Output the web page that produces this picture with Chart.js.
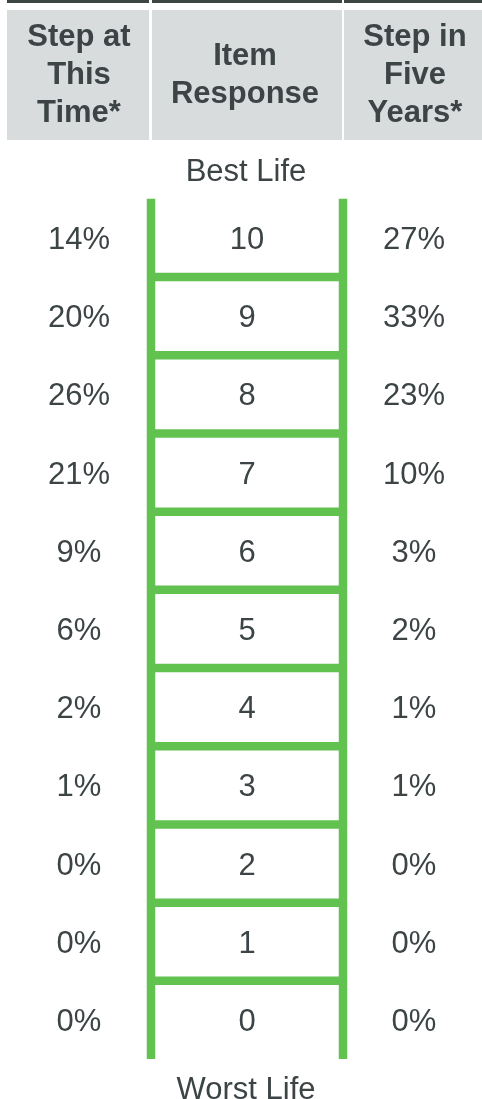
<!DOCTYPE html>
<html>
<head>
<meta charset="utf-8">
<script src="https://cdn.jsdelivr.net/npm/chart.js@4/dist/chart.umd.min.js"></script>
<style>
  html, body { margin: 0; padding: 0; background: #ffffff; }
  #wrap { position: relative; width: 482px; height: 1099px; }
  canvas { display: block; }
</style>
</head>
<body>
<div id="wrap"><canvas id="c" width="482" height="1099"></canvas></div>
<script>
// ---- data ----
const steps = [10, 9, 8, 7, 6, 5, 4, 3, 2, 1, 0];
const stepNow = [14, 20, 26, 21, 9, 6, 2, 1, 0, 0, 0];      // Step at This Time* (%)
const stepFive = [27, 33, 23, 10, 3, 2, 1, 1, 0, 0, 0];     // Step in Five Years* (%)
const headers = [["Step at", "This", "Time*"], ["Item", "Response"], ["Step in", "Five", "Years*"]];
const topLabel = "Best Life";
const bottomLabel = "Worst Life";

// ---- style / layout ----
const GREEN = "#62c250";
const TEXT = "#3d4446";
const HEAD_BG = "#d9dcdd";
const DARK = "#3e4545";
const FONT = "'Liberation Sans', Arial, Helvetica, sans-serif";
const railX = [151, 343];
const colCenter = [79, 247, 414];
const headCenter = [79, 245, 415];
const colSpans = [[7, 149], [152, 342], [344, 482]];

const minStep = Math.min(...steps), maxStep = Math.max(...steps);

const datasets = [];
// rungs between consecutive steps
for (let i = 0; i < steps.length - 1; i++) {
  const yv = (steps[i] + steps[i + 1]) / 2;
  datasets.push({
    data: [{ x: railX[0], y: yv }, { x: railX[1], y: yv }],
    showLine: true, borderColor: GREEN, borderWidth: 8.5, pointRadius: 0,
    borderCapStyle: 'butt'
  });
}
// rails
railX.forEach(rx => {
  datasets.push({
    data: [{ x: rx, y: maxStep + 0.5 }, { x: rx, y: minStep - 0.5 }],
    showLine: true, borderColor: GREEN, borderWidth: 8.5, pointRadius: 0,
    borderCapStyle: 'butt'
  });
});

const ladderPlugin = {
  id: 'ladder',
  beforeDatasetsDraw(chart) {
    const ctx = chart.ctx;
    const xs = chart.scales.x;
    ctx.save();
    // header bar + cells
    colSpans.forEach(([a, b]) => {
      const x0 = xs.getPixelForValue(a), x1 = xs.getPixelForValue(b);
      ctx.fillStyle = DARK;
      ctx.fillRect(x0, 0, x1 - x0, 3);
      ctx.fillStyle = HEAD_BG;
      ctx.fillRect(x0, 10, x1 - x0, 130);
    });
    ctx.fillStyle = TEXT;
    ctx.textAlign = 'center';
    ctx.textBaseline = 'alphabetic';
    ctx.font = "bold 31px " + FONT;
    headers.forEach((lines, c) => {
      const n = lines.length;
      lines.forEach((t, i) => {
        ctx.fillText(t, xs.getPixelForValue(headCenter[c]), 84 + (i - (n - 1) / 2) * 38);
      });
    });
    ctx.restore();
  },
  afterDatasetsDraw(chart) {
    const ctx = chart.ctx;
    const xs = chart.scales.x, ys = chart.scales.y;
    ctx.save();
    ctx.fillStyle = TEXT;
    ctx.textAlign = 'center';
    ctx.textBaseline = 'alphabetic';
    ctx.font = "31px " + FONT;
    steps.forEach((s, i) => {
      const y = ys.getPixelForValue(s) + 11;
      ctx.fillText(stepNow[i] + "%", xs.getPixelForValue(colCenter[0]), y);
      ctx.fillText(String(s), xs.getPixelForValue(colCenter[1]), y);
      ctx.fillText(stepFive[i] + "%", xs.getPixelForValue(colCenter[2]), y);
    });
    const topY = ys.getPixelForValue(maxStep + 0.5);
    const botY = ys.getPixelForValue(minStep - 0.5);
    ctx.fillText(topLabel, xs.getPixelForValue(246), topY - 18);
    ctx.fillText(bottomLabel, xs.getPixelForValue(246), botY + 40);
    ctx.restore();
  }
};

new Chart(document.getElementById('c'), {
  type: 'scatter',
  data: { datasets },
  options: {
    responsive: false,
    devicePixelRatio: 1,
    animation: false,
    layout: { padding: 0 },
    plugins: { legend: { display: false }, tooltip: { enabled: false } },
    scales: {
      x: { type: 'linear', min: 0, max: 482, display: false },
      y: { type: 'linear', min: -1.011, max: 13.043, display: false }
    }
  },
  plugins: [ladderPlugin]
});
</script>
</body>
</html>
